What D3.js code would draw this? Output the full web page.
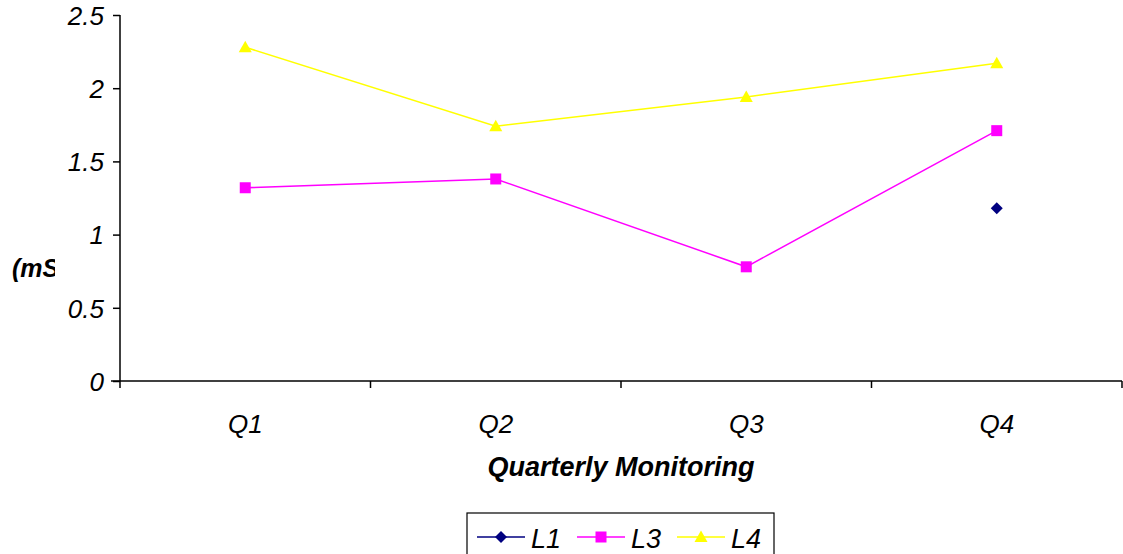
<!DOCTYPE html>
<html>
<head>
<meta charset="utf-8">
<script src="https://cdn.jsdelivr.net/npm/d3@7"></script>
<style>
  html, body { margin: 0; padding: 0; background: #fff; }
  svg { display: block; font-family: "Liberation Sans", Arial, sans-serif; }
</style>
</head>
<body>
<svg id="chart" width="1123" height="554"></svg>
<script>
// Quarterly conductivity readings per monitoring location
const quarters = ["Q1", "Q2", "Q3", "Q4"];
const l1 = [null, null, null, 1.18];
const l3 = [1.32, 1.38, 0.78, 1.71];
const l4 = [2.28, 1.74, 1.94, 2.17];
const yTicks = [0, 0.5, 1, 1.5, 2, 2.5];
const seriesNames = ["L1", "L3", "L4"];
const seriesColors = ["#000080", "#FF00FF", "#FFFF00"];

const series = [
  { name: seriesNames[0], values: l1, color: seriesColors[0], shape: "diamond" },
  { name: seriesNames[1], values: l3, color: seriesColors[1], shape: "square" },
  { name: seriesNames[2], values: l4, color: seriesColors[2], shape: "triangle" }
];

const svg = d3.select("#chart");
const plotLeft = 120, plotRight = 1122, plotTop = 15, plotBottom = 381;
const fontSize = 26;

const x = d3.scaleBand().domain(quarters).range([plotLeft, plotRight]).padding(0);
const y = d3.scaleLinear().domain([0, 2.5]).range([plotBottom, plotTop]);

// y axis
const yAxis = svg.append("g").attr("transform", `translate(${plotLeft},0)`)
  .call(d3.axisLeft(y).tickValues(yTicks).tickFormat(d3.format("")).tickSize(7).tickPadding(9));
yAxis.select(".domain").attr("d", `M0,${plotTop}V${plotBottom}`);
yAxis.selectAll("line").attr("stroke", "#000").attr("stroke-width", 1.5);
yAxis.select(".domain").attr("stroke", "#000").attr("stroke-width", 1.5);
yAxis.selectAll("text").attr("font-size", fontSize).attr("font-style", "italic")
  .attr("font-family", "'Liberation Sans', Arial, sans-serif").attr("fill", "#000")
  .attr("dy", "0.36em");

// x axis with ticks at category boundaries
const xAxisG = svg.append("g").attr("transform", `translate(0,${plotBottom})`);
xAxisG.append("line").attr("x1", plotLeft - 9).attr("x2", plotRight).attr("y1", 0).attr("y2", 0)
  .attr("stroke", "#000").attr("stroke-width", 1.5);
const bounds = quarters.map(q => x(q)).concat([plotRight]);
xAxisG.selectAll("line.tick").data(bounds).join("line").attr("class", "tick")
  .attr("x1", d => d).attr("x2", d => d).attr("y1", 0).attr("y2", 7)
  .attr("stroke", "#000").attr("stroke-width", 1.5);
xAxisG.selectAll("text").data(quarters).join("text")
  .attr("x", d => x(d) + x.bandwidth() / 2).attr("y", 52)
  .attr("text-anchor", "middle").attr("font-size", fontSize).attr("font-style", "italic")
  .text(d => d);

// axis titles
svg.append("text").attr("x", 621).attr("y", 476).attr("text-anchor", "middle")
  .attr("font-size", 27).attr("font-weight", "bold").attr("font-style", "italic")
  .text("Quarterly Monitoring");

svg.append("clipPath").attr("id", "ytitleClip").append("rect")
  .attr("x", 0).attr("y", 240).attr("width", 55).attr("height", 60);
svg.append("text").attr("x", 12).attr("y", 277).attr("clip-path", "url(#ytitleClip)")
  .attr("font-size", 25).attr("font-weight", "bold").attr("font-style", "italic")
  .text("(mS/cm)");

const cx = q => x(q) + x.bandwidth() / 2;

function marker(g, shape, color, px, py) {
  if (shape === "diamond") {
    g.append("path").attr("d", `M${px},${py - 6}L${px + 6},${py}L${px},${py + 6}L${px - 6},${py}Z`).attr("fill", color);
  } else if (shape === "square") {
    g.append("rect").attr("x", px - 5.5).attr("y", py - 5.5).attr("width", 11).attr("height", 11).attr("fill", color);
  } else {
    g.append("path").attr("d", `M${px},${py - 6.5}L${px + 6.5},${py + 5}L${px - 6.5},${py + 5}Z`).attr("fill", color);
  }
}

const line = d3.line().defined(d => d.v != null).x(d => cx(d.q)).y(d => y(d.v));
series.forEach(s => {
  const pts = quarters.map((q, i) => ({ q, v: s.values[i] }));
  svg.append("path").datum(pts).attr("d", line).attr("fill", "none")
    .attr("stroke", s.color).attr("stroke-width", 1.5);
  const g = svg.append("g");
  pts.filter(d => d.v != null).forEach(d => marker(g, s.shape, s.color, cx(d.q), y(d.v)));
});

// legend
const lg = svg.append("g");
lg.append("rect").attr("x", 467).attr("y", 513).attr("width", 307).attr("height", 50)
  .attr("fill", "#fff").attr("stroke", "#000").attr("stroke-width", 1.2);
const lx = [477, 577, 677];
series.forEach((s, i) => {
  const y0 = 537;
  lg.append("line").attr("x1", lx[i]).attr("x2", lx[i] + 48).attr("y1", y0).attr("y2", y0)
    .attr("stroke", s.color).attr("stroke-width", 1.5);
  marker(lg, s.shape, s.color, lx[i] + 24, y0);
  lg.append("text").attr("x", lx[i] + 54).attr("y", 548).attr("font-size", 27)
    .attr("font-style", "italic").text(s.name);
});
</script>
</body>
</html>
